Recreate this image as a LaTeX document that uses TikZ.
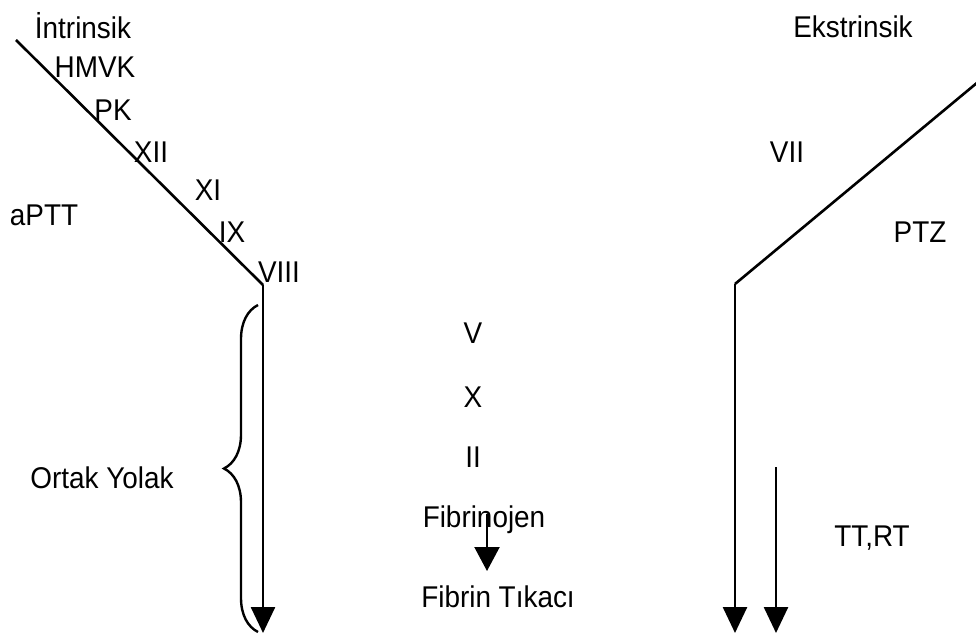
\documentclass[tikz,border=0pt]{standalone}
\usepackage{fontspec}
\setmainfont{Liberation Sans}
\usetikzlibrary{arrows.meta,decorations.pathreplacing}

\tikzset{
  lbl/.style={inner sep=0pt, font=\fontsize{30}{32}\selectfont,
              xscale=0.93, transform shape},
  yol/.style={line width=2.6pt, line join=miter},
  ok/.style={yol, -{Triangle[width=24pt,length=26pt]}}
}

\begin{document}
\begin{tikzpicture}[x=1pt,y=-1pt]
        \useasboundingbox (0,0) rectangle (976,639);

        % Intrinsik yol
        \coordinate (ibas) at (16,40);
        \coordinate (ikose) at (263,285);
        \coordinate (ison) at (263,633);
        \draw[yol] (ibas) -- (ikose);
        \draw[ok] (ikose) -- (ison);

        % Ekstrinsik yol
        \coordinate (ebas) at (978,82);
        \coordinate (ekose) at (735,284);
        \coordinate (eson) at (735,633);
        \draw[yol] (ebas) -- (ekose);
        \draw[ok] (ekose) -- (eson);

        % TT, RT oku
        \coordinate (tbas) at (776,467);
        \coordinate (tson) at (776,633);
        \draw[ok] (tbas) -- (tson);

        % Ortak yolak parantezi
        \coordinate (palt) at (258,632);
        \coordinate (pust) at (258,305);
        \draw[line width=2.4pt, decorate,
              decoration={brace, amplitude=34pt}] (palt) -- (pust);

        % Etiketler
        \node[lbl] (intr) at (83,26) {İntrinsik};
        \node[lbl] (hmvk) at (95,67) {HMVK};
        \node[lbl] (pk) at (113,110) {PK};
        \node[lbl] (xii) at (151,152) {XII};
        \node[lbl] (xi) at (208,190) {XI};
        \node[lbl] (ix) at (232,232) {IX};
        \node[lbl] (viii) at (279,272) {VIII};
        \node[lbl] (aptt) at (44,215) {aPTT};
        \node[lbl] (ortak) at (102,478) {Ortak Yolak};

        \node[lbl] (ekst) at (853,27) {Ekstrinsik};
        \node[lbl] (vii) at (787,152) {VII};
        \node[lbl] (ptz) at (920,232) {PTZ};
        \node[lbl] (ttrt) at (872,538) {TT,RT};

        % Ortak faktorler
        \node[lbl] (v) at (473,333) {V};
        \node[lbl] (x) at (473,397) {X};
        \node[lbl] (ii) at (473,457) {II};
        \node[lbl] (fbj) at (484,520) {Fibrinojen};
        \node[lbl] (fbt) at (498,597) {Fibrin Tıkacı};

        % Fibrinojen -> Fibrin
        \coordinate (fbas) at (487,514);
        \coordinate (fson) at (487,571);
        \draw[line width=2.2pt, -{Triangle[width=25pt,length=24pt]}] (fbas) -- (fson);
\end{tikzpicture}
\end{document}
